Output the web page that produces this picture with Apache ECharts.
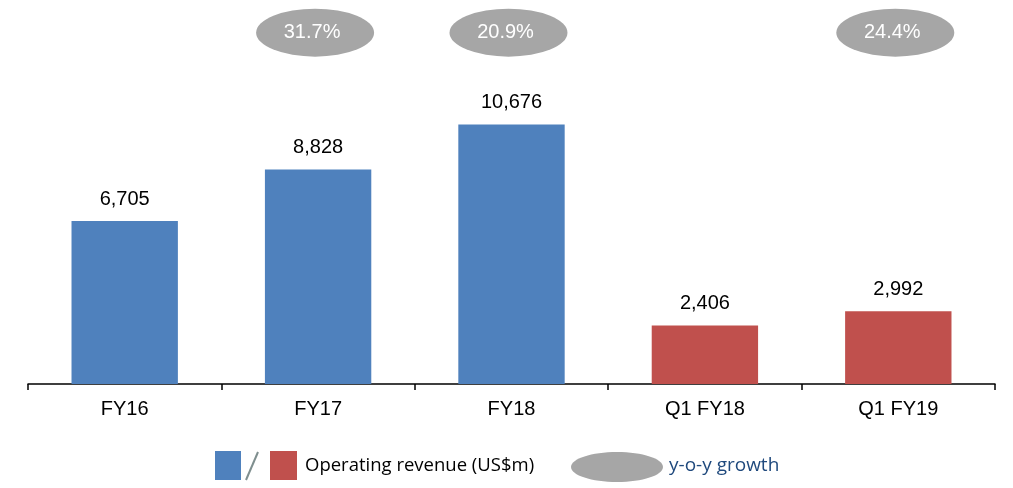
<!DOCTYPE html>
<html>
<head>
<meta charset="utf-8">
<script src="https://cdn.jsdelivr.net/npm/echarts@6/dist/echarts.min.js"></script>
<style>
  html, body { margin: 0; padding: 0; background: #fff; }
  #chart { width: 1013px; height: 488px; }
</style>
</head>
<body>
<div id="chart"></div>
<script>
// ---------------------------------------------------------------------------
// Data
// ---------------------------------------------------------------------------
const categories = ['FY16', 'FY17', 'FY18', 'Q1 FY18', 'Q1 FY19']
const revenue = [6705, 8828, 10676, 2406, 2992]          // US$m
const growth = [null, 31.7, 20.9, null, 24.4]            // y-o-y %
const isQuarter = [false, false, false, true, true]

const BLUE = '#4F81BD'
const RED = '#C0504D'
const GREY = '#A6A6A6'
const FONT = '"Liberation Sans", Arial, sans-serif'

const chart = echarts.init(document.getElementById('chart'))

chart.setOption({
  animation: false,
  grid: { left: 28, right: 18, top: 0, bottom: 104 },
  xAxis: {
    type: 'category',
    data: categories,
    axisLine: { lineStyle: { color: '#000', width: 1.5 } },
    axisTick: { show: true, length: 6, lineStyle: { color: '#000', width: 1.5 } },
    axisLabel: { color: '#000', fontSize: 20, fontFamily: FONT, margin: 15 },
  },
  yAxis: [
    { type: 'value', min: 0, max: 15800, show: false },
    { type: 'value', min: 0, max: 1, show: false },
  ],
  series: [
    {
      type: 'bar',
      barWidth: '55%',
      data: revenue.map((v, i) => ({
        value: v,
        itemStyle: { color: isQuarter[i] ? RED : BLUE },
      })),
      label: {
        show: true,
        position: 'top',
        distance: 12,
        color: '#000',
        fontSize: 20,
        fontFamily: FONT,
        formatter: (p) => p.value.toLocaleString('en-US'),
      },
    },
    {
      // growth bubbles along the top
      type: 'scatter',
      yAxisIndex: 1,
      symbol: 'circle',
      symbolSize: [118, 48],
      symbolOffset: [-3, 0],
      itemStyle: { color: GREY, opacity: 1 },
      data: growth
        .map((g, i) => (g == null ? null : { value: [i, 0.915], growth: g }))
        .filter(Boolean),
      label: {
        show: true,
        position: 'inside',
        offset: [-3, 0],
        color: '#fff',
        fontSize: 20,
        fontFamily: FONT,
        formatter: (p) => p.data.growth.toFixed(1) + '%',
      },
    },
  ],
  graphic: [
    { type: 'rect', shape: { x: 215, y: 451, width: 26, height: 29 }, style: { fill: BLUE } },
    { type: 'line', shape: { x1: 246, y1: 480, x2: 258, y2: 452 }, style: { stroke: '#7F8F8F', lineWidth: 2 } },
    { type: 'rect', shape: { x: 270, y: 451, width: 27, height: 29 }, style: { fill: RED } },
    {
      type: 'text', x: 305, y: 466,
      style: {
        text: 'Operating revenue (US$m)', fill: '#000',
        font: '18.5px "Open Sans", sans-serif', verticalAlign: 'middle',
      },
    },
    { type: 'ellipse', shape: { cx: 617, cy: 467, rx: 46, ry: 15 }, style: { fill: GREY } },
    {
      type: 'text', x: 669, y: 466,
      style: {
        text: 'y-o-y growth', fill: '#1F497D',
        font: '19px "Open Sans", sans-serif', verticalAlign: 'middle',
      },
    },
  ],
})
</script>
</body>
</html>
